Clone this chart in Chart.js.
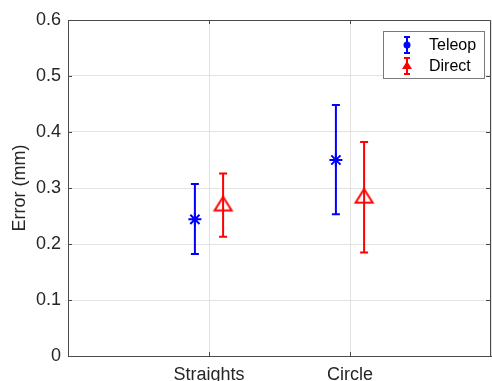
<!DOCTYPE html>
<html>
<head>
<meta charset="utf-8">
<script src="https://cdn.jsdelivr.net/npm/chart.js@4/dist/chart.umd.min.js"></script>
<style>
  html, body { margin: 0; padding: 0; background: #fff; overflow: hidden; }
  canvas { display: block; }
</style>
</head>
<body>
<canvas id="c" width="492" height="400" style="width:492px;height:400px"></canvas>
<script>
// ---- data ----
const categories = ['Straights', 'Circle'];
const seriesNames = ['Teleop', 'Direct'];
const teleopMean = [0.244, 0.350];
const teleopLow  = [0.182, 0.253];
const teleopHigh = [0.307, 0.448];
const directMean = [0.272, 0.286];
const directLow  = [0.213, 0.185];
const directHigh = [0.326, 0.382];
const yTickValues = [0, 0.1, 0.2, 0.3, 0.4, 0.5, 0.6];

// ---- styles ----
const BLUE = '#0000ff';
const RED = '#ff0000';
const AXIS = '#4a4a4a';
const TEXT = '#262626';
const GRID = '#e3e3e3';
const FONT = "'Liberation Sans', Arial, sans-serif";
const groupOffset = 0.1;

function makeTriangle(color, w, h, lw) {
  const pad = lw + 1;
  const c = document.createElement('canvas');
  c.width = Math.ceil(w + 2 * pad);
  c.height = Math.ceil(h + 2 * pad);
  const g = c.getContext('2d');
  g.strokeStyle = color;
  g.lineWidth = lw;
  g.lineJoin = 'miter';
  const cx = c.width / 2, cy = c.height / 2;
  g.beginPath();
  g.moveTo(cx, cy - h / 2);
  g.lineTo(cx + w / 2, cy + h / 2);
  g.lineTo(cx - w / 2, cy + h / 2);
  g.closePath();
  g.stroke();
  return c;
}
const triImg = makeTriangle(RED, 17, 13.5, 2);

const teleopPts = categories.map((c, i) => ({ x: i + 1 - groupOffset, y: teleopMean[i] }));
const directPts = categories.map((c, i) => ({ x: i + 1 + groupOffset, y: directMean[i] }));
const lows = [teleopLow, directLow];
const highs = [teleopHigh, directHigh];
const colors = [BLUE, RED];

const errorBarPlugin = {
  id: 'errbars',
  beforeDatasetsDraw(chart) {
    const ctx = chart.ctx;
    const ys = chart.scales.y;
    ctx.save();
    [0, 1].forEach(d => {
      const meta = chart.getDatasetMeta(d);
      ctx.strokeStyle = colors[d];
      ctx.lineWidth = 2;
      meta.data.forEach((pt, j) => {
        const x = pt.x;
        const yl = ys.getPixelForValue(lows[d][j]);
        const yh = ys.getPixelForValue(highs[d][j]);
        ctx.beginPath();
        ctx.moveTo(x, yl); ctx.lineTo(x, yh);
        ctx.moveTo(x - 4, yl); ctx.lineTo(x + 4, yl);
        ctx.moveTo(x - 4, yh); ctx.lineTo(x + 4, yh);
        ctx.stroke();
      });
    });
    ctx.restore();
  },
  afterDraw(chart) {
    const ctx = chart.ctx;
    const a = chart.chartArea;
    const xs = chart.scales.x, ys = chart.scales.y;
    ctx.save();
    // box
    ctx.strokeStyle = AXIS;
    ctx.lineWidth = 1;
    ctx.beginPath();
    ctx.rect(Math.round(a.left) + 0.5, Math.round(a.top) + 0.5,
             Math.round(a.right - a.left) - 1, Math.round(a.bottom - a.top));
    ctx.stroke();
    // inner ticks
    ctx.beginPath();
    yTickValues.forEach(v => {
      const y = Math.round(ys.getPixelForValue(v)) + 0.5;
      ctx.moveTo(a.left, y); ctx.lineTo(a.left + 4, y);
      ctx.moveTo(a.right - 1, y); ctx.lineTo(a.right - 5, y);
    });
    categories.forEach((c, i) => {
      const x = Math.round(xs.getPixelForValue(i + 1)) + 0.5;
      ctx.moveTo(x, a.bottom); ctx.lineTo(x, a.bottom - 4);
      ctx.moveTo(x, a.top); ctx.lineTo(x, a.top + 4);
    });
    ctx.stroke();

    // legend
    const lx = 383, ly = 31, lw = 101, lh = 47;
    ctx.fillStyle = '#fff';
    ctx.fillRect(lx, ly, lw, lh);
    ctx.strokeStyle = '#7a7a7a';
    ctx.lineWidth = 1;
    ctx.strokeRect(lx + 0.5, ly + 0.5, lw, lh);
    const rows = [ly + 14, ly + 35];
    rows.forEach((cy, d) => {
      const ix = 407;
      ctx.strokeStyle = colors[d];
      ctx.fillStyle = colors[d];
      ctx.lineWidth = 2;
      ctx.beginPath();
      ctx.moveTo(ix, cy - 8); ctx.lineTo(ix, cy + 8);
      ctx.moveTo(ix - 3, cy - 8); ctx.lineTo(ix + 3, cy - 8);
      ctx.moveTo(ix - 3, cy + 8); ctx.lineTo(ix + 3, cy + 8);
      ctx.stroke();
      if (d === 0) {
        ctx.beginPath();
        ctx.arc(ix, cy, 3.5, 0, Math.PI * 2);
        ctx.fill();
      } else {
        ctx.beginPath();
        ctx.moveTo(ix, cy - 5);
        ctx.lineTo(ix + 5, cy + 3);
        ctx.lineTo(ix - 5, cy + 3);
        ctx.closePath();
        ctx.fill();
      }
      ctx.fillStyle = '#000';
      ctx.font = '16px ' + FONT;
      ctx.textAlign = 'left';
      ctx.textBaseline = 'middle';
      ctx.fillText(seriesNames[d], 429, cy + 1);
    });
    ctx.restore();
  }
};

new Chart(document.getElementById('c'), {
  type: 'scatter',
  data: {
    datasets: [
      {
        label: seriesNames[0],
        data: teleopPts,
        pointStyle: 'star',
        pointRadius: 6.5,
        pointHoverRadius: 6.5,
        borderColor: BLUE,
        backgroundColor: BLUE,
        borderWidth: 2,
        pointBorderWidth: 2
      },
      {
        label: seriesNames[1],
        data: directPts,
        pointStyle: triImg,
        pointRadius: 10,
        borderColor: RED,
        backgroundColor: RED
      }
    ]
  },
  plugins: [errorBarPlugin],
  options: {
    responsive: false,
    animation: false,
    events: [],
    layout: { autoPadding: false, padding: { top: 20, right: 1, left: 0, bottom: 0 } },
    plugins: { legend: { display: false }, tooltip: { enabled: false } },
    scales: {
      x: {
        type: 'linear',
        min: 0, max: 3,
        afterBuildTicks(s) { s.ticks = [0, 1, 2, 3].map(v => ({ value: v })); },
        afterFit(s) { s.height = 44; s.paddingLeft = 0; s.paddingRight = 0; },
        ticks: {
          callback: v => (v >= 1 && v <= categories.length ? categories[v - 1] : ''),
          color: TEXT,
          font: { family: FONT, size: 18 },
          padding: 8,
          maxRotation: 0,
          autoSkip: false
        },
        grid: { color: GRID, drawTicks: false },
        border: { display: true, color: AXIS }
      },
      y: {
        min: 0, max: 0.6,
        afterBuildTicks(s) { s.ticks = yTickValues.map(v => ({ value: v })); },
        afterFit(s) { s.width = 68; s.paddingTop = 0; s.paddingBottom = 0; },
        ticks: {
          callback: v => (v === 0 ? '0' : v.toFixed(1)),
          color: TEXT,
          font: { family: FONT, size: 18 },
          padding: 7
        },
        grid: { color: GRID, drawTicks: false },
        border: { display: true, color: AXIS },
        title: {
          display: true,
          text: 'Error (mm)',
          color: TEXT,
          font: { family: FONT, size: 18 },
          padding: { top: 9, bottom: 0 }
        }
      }
    }
  }
});
</script>
</body>
</html>
